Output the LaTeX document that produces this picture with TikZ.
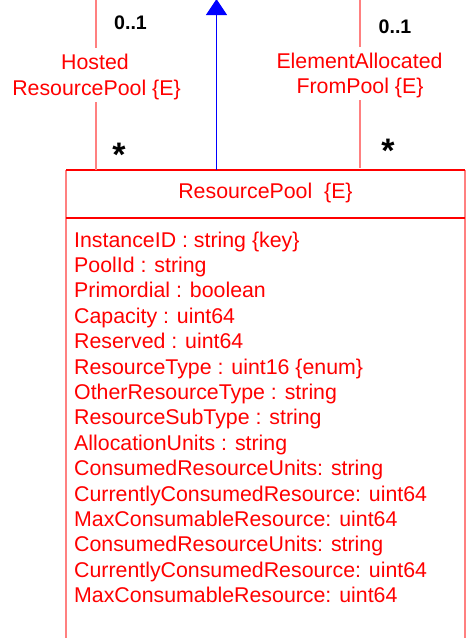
\documentclass[tikz,border=0pt]{standalone}
\usepackage{fontspec}
\setmainfont{Liberation Sans}
\usetikzlibrary{arrows.meta}
\definecolor{umlred}{HTML}{FF0000}
\definecolor{umlpink}{HTML}{FF8080}
\definecolor{umlblue}{HTML}{0000FF}
\begin{document}
\begin{tikzpicture}[x=1pt,y=-1pt,
  txt/.style={text=umlred,font=\fontsize{21.33}{25.4}\selectfont,inner sep=0pt,anchor=base},
  attr/.style={txt,anchor=base west},
  mult/.style={text=black,font=\fontsize{19.6}{22}\bfseries\selectfont,inner sep=0pt,anchor=base},
  star/.style={text=black,font=\fontsize{34}{36}\bfseries\selectfont,inner sep=0pt,anchor=base},
  assoc/.style={draw=umlpink,line width=2pt},
  boxside/.style={draw=umlpink,line width=2pt},
  boxrule/.style={draw=umlred,line width=1.3pt},
  gen/.style={draw=umlblue,line width=1.3pt,-{Triangle[width=21pt,length=16pt]}}]
\useasboundingbox (0,0) rectangle (466,638);
% class box
\coordinate (btl) at (66,170);
\coordinate (btr) at (465,170);
\coordinate (bsl) at (66,218);
\coordinate (bsr) at (465,218);
\coordinate (bbl) at (66,645);
\coordinate (bbr) at (465,645);
\draw[boxside] (btl) -- (bbl);
\draw[boxside] (btr) -- (bbr);
\draw[boxrule] (btl) -- (btr);
\draw[boxrule] (bsl) -- (bsr);
\node[txt] (title) at (265.5,198) {ResourcePool\ \ \{E\}};
\foreach \t [count=\i from 0] in {
  InstanceID : string \{key\},
  PoolId : string,
  Primordial : boolean,
  Capacity : uint64,
  Reserved : uint64,
  ResourceType : uint16 \{enum\},
  OtherResourceType : string,
  ResourceSubType : string,
  AllocationUnits : string,
  ConsumedResourceUnits: string,
  CurrentlyConsumedResource: uint64,
  MaxConsumableResource: uint64,
  ConsumedResourceUnits: string,
  CurrentlyConsumedResource: uint64,
  MaxConsumableResource: uint64}
  \node[attr] (a\i) at (74,247+25.4*\i) {\t};
% left association
\coordinate (lt) at (95.5,-2);
\coordinate (la) at (95.5,48);
\coordinate (lb) at (95.5,102);
\coordinate (lbox) at (95.5,170);
\draw[assoc] (lt) -- (la);
\draw[assoc] (lb) -- (lbox);
\node[txt] (lname1) at (95,69) {Hosted};
\node[txt] (lname2) at (96.5,95) {ResourcePool \{E\}};
\node[mult] (lm1) at (130.5,29.5) {0..1};
\node[star] (lm2) at (119,166) {*};
% right association
\coordinate (rt) at (359.5,-2);
\coordinate (ra) at (359.5,47);
\coordinate (rb) at (359.5,100);
\coordinate (rbox) at (359.5,168);
\draw[assoc] (rt) -- (ra);
\draw[assoc] (rb) -- (rbox);
\node[txt] (rname1) at (359.5,68.5) {ElementAllocated};
\node[txt] (rname2) at (360,93.5) {FromPool \{E\}};
\node[mult] (rm1) at (395,33.5) {0..1};
\node[star] (rm2) at (388,162) {*};
% generalization
\coordinate (gtop) at (216.5,-1);
\coordinate (gbot) at (216.5,170);
\draw[gen] (gbot) -- (gtop);
\end{tikzpicture}
\end{document}
